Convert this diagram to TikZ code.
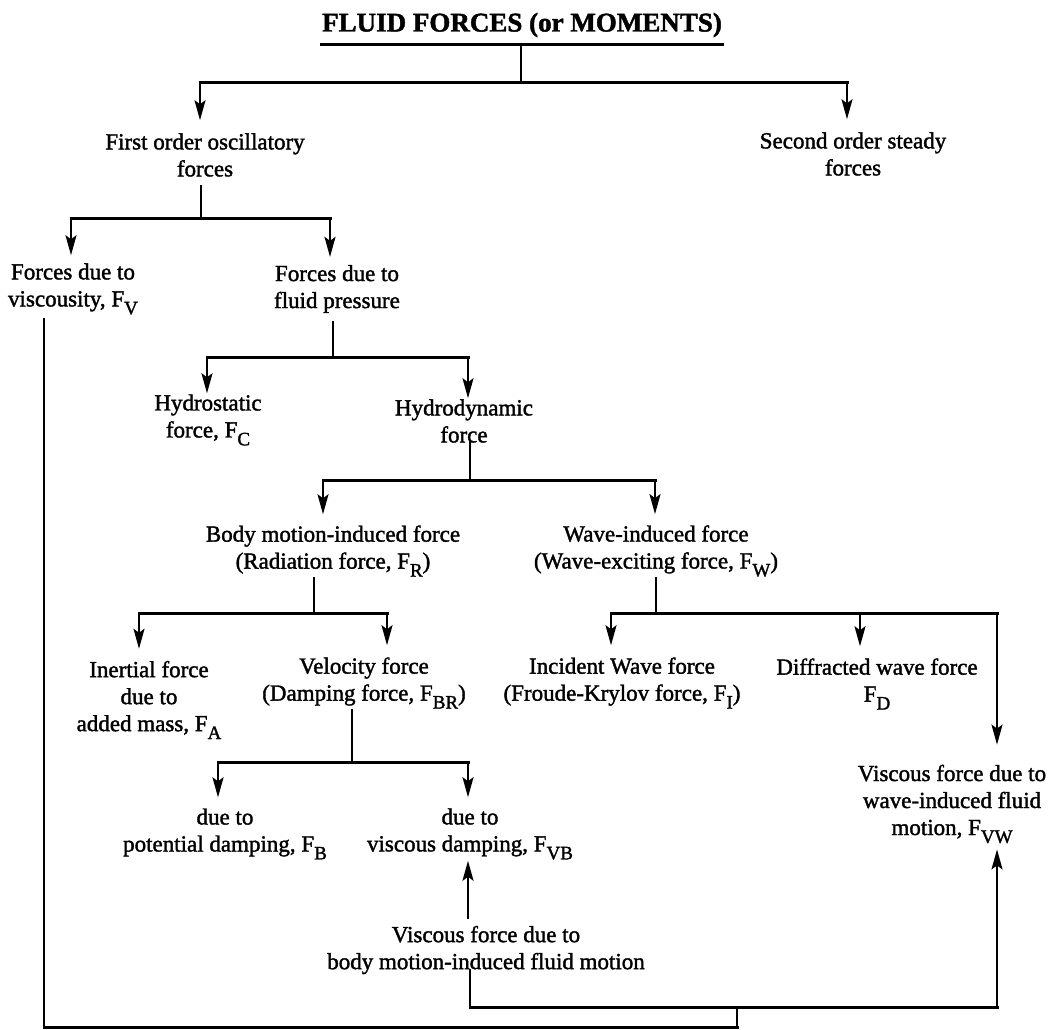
\documentclass[tikz,border=0pt]{standalone}
\usepackage{fontspec}
\setmainfont{Liberation Serif}[FakeBold=1.6]
\usetikzlibrary{arrows.meta}
\newcommand{\sbs}[1]{\raisebox{-0.75ex}{\fontsize{19}{19}\selectfont #1}}
\begin{document}
\begin{tikzpicture}[x=1pt,y=-1pt,
  lbl/.style={align=center, inner sep=0pt, font=\fontsize{23}{27}\selectfont},
  bar/.style={line width=3pt, line cap=rect},
  stem/.style={line width=2pt},
  arr/.style={line width=2.2pt, -{Stealth[length=20pt,width=11pt,inset=4pt]}},
]
\useasboundingbox (0,0) rectangle (1048,1029);

% nodes
\node[lbl, font=\fontsize{27}{30}\selectfont\bfseries] (title) at (522,25) {FLUID FORCES (or MOMENTS)};
\node[lbl] (first) at (205,155) {First order oscillatory\\forces};
\node[lbl] (second) at (853,154) {Second order steady\\forces};
\node[lbl] (fv) at (73,289) {Forces due to\\viscousity, F\sbs{V}};
\node[lbl] (fp) at (337,289) {Forces due to\\fluid pressure};
\node[lbl] (fc) at (208,420) {Hydrostatic\\force, F\sbs{C}};
\node[lbl] (hd) at (464,421) {Hydrodynamic\\force};
\node[lbl] (fr) at (333,551) {Body motion-induced force\\(Radiation force, F\sbs{R})};
\node[lbl] (fw) at (656,551) {Wave-induced force\\(Wave-exciting force, F\sbs{W})};
\node[lbl] (fa) at (149,700) {Inertial force\\due to\\added mass, F\sbs{A}};
\node[lbl] (fbr) at (364,683) {Velocity force\\(Damping force, F\sbs{BR})};
\node[lbl] (fi) at (622,683) {Incident Wave force\\(Froude-Krylov force, F\sbs{I})};
\node[lbl] (fd) at (877,684) {Diffracted wave force\\F\sbs{D}};
\node[lbl] (fb) at (225,834) {due to\\potential damping, F\sbs{B}};
\node[lbl] (fvb) at (470,834) {due to\\viscous damping, F\sbs{VB}};
\node[lbl] (vbm) at (486,950) {Viscous force due to\\body motion-induced fluid motion};
\node[lbl] (fvw) at (952,804) {Viscous force due to\\wave-induced fluid\\motion, F\sbs{VW}};

% junction coordinates
\coordinate (ul) at (0,44);
\coordinate (j1) at (521,82);  \coordinate (j1L) at (200,82);  \coordinate (j1R) at (847,82);
\coordinate (j2) at (201,218); \coordinate (j2L) at (71,218);  \coordinate (j2R) at (330,218);
\coordinate (j3) at (333,357); \coordinate (j3L) at (207,357); \coordinate (j3R) at (468,357);
\coordinate (j4) at (470,480); \coordinate (j4L) at (323,480); \coordinate (j4R) at (655,480);
\coordinate (j5) at (314,613); \coordinate (j5L) at (139,613); \coordinate (j5R) at (387,613);
\coordinate (j6) at (656,613); \coordinate (j6L) at (611,613); \coordinate (j6M) at (860,613); \coordinate (j6R) at (997,613);
\coordinate (j7) at (352,762); \coordinate (j7L) at (218,762); \coordinate (j7R) at (468,762);
\coordinate (jv) at (44,1027); \coordinate (jb) at (737,1027); \coordinate (jm) at (737,1007);
\coordinate (jvb) at (470,1007); \coordinate (jr) at (997,1007);

% title underline and level 1
\draw[bar] (title.west |- ul) -- (title.east |- ul);
\draw[stem] (j1 |- ul) -- (j1);
\draw[bar] (j1L) -- (j1R);
\draw[arr, shorten >=13pt] (j1L) -- (j1L |- first.north);
\draw[arr, shorten >=13pt] (j1R) -- (j1R |- second.north);

% level 2
\draw[stem, shorten <=8pt] (j2 |- first.south) -- (j2);
\draw[bar] (j2L) -- (j2R);
\draw[arr, shorten >=8pt] (j2L) -- (j2L |- fv.north);
\draw[arr, shorten >=8pt] (j2R) -- (j2R |- fp.north);

% level 3
\draw[stem, shorten <=8pt] (j3 |- fp.south) -- (j3);
\draw[bar] (j3L) -- (j3R);
\draw[arr, shorten >=1pt] (j3L) -- (j3L |- fc.north);
\draw[arr, shorten >=1pt] (j3R) -- (j3R |- hd.north);

% level 4
\draw[stem, shorten <=-2pt] (j4 |- hd.south) -- (j4);
\draw[bar] (j4L) -- (j4R);
\draw[arr, shorten >=11pt] (j4L) -- (j4L |- fr.north);
\draw[arr, shorten >=11pt] (j4R) -- (j4R |- fw.north);

% level 5
\draw[stem] (j5 |- fr.south) -- (j5);
\draw[bar] (j5L) -- (j5R);
\draw[arr, shorten >=12pt] (j5L) -- (j5L |- fa.north);
\draw[arr, shorten >=12pt] (j5R) -- (j5R |- fbr.north);
\draw[stem] (j6 |- fw.south) -- (j6);
\draw[bar] (j6L) -- (j6R);
\draw[arr, shorten >=12pt] (j6L) -- (j6L |- fi.north);
\draw[arr, shorten >=12pt] (j6M) -- (j6M |- fd.north);
\draw[arr, shorten >=20pt] (j6R) -- (j6R |- fvw.north);

% level 6
\draw[stem] (j7 |- fbr.south) -- (j7);
\draw[bar] (j7L) -- (j7R);
\draw[arr, shorten >=11pt] (j7L) -- (j7L |- fb.north);
\draw[arr, shorten >=11pt] (j7R) -- (j7R |- fvb.north);

% viscous feedback paths
\draw[arr, shorten <=7pt, shorten >=1pt] (j7R |- vbm.north) -- (j7R |- fvb.south);
\draw[stem, shorten <=-5pt] (jvb |- vbm.south) -- (jvb);
\draw[bar] (jvb) -- (jr);
\draw[arr, shorten >=6pt] (jr) -- (jr |- fvw.south);
\draw[stem, shorten <=3pt] (jv |- fv.south) -- (jv);
\draw[bar] (jv) -- (jb);
\draw[stem] (jb) -- (jm);
\end{tikzpicture}
\end{document}
